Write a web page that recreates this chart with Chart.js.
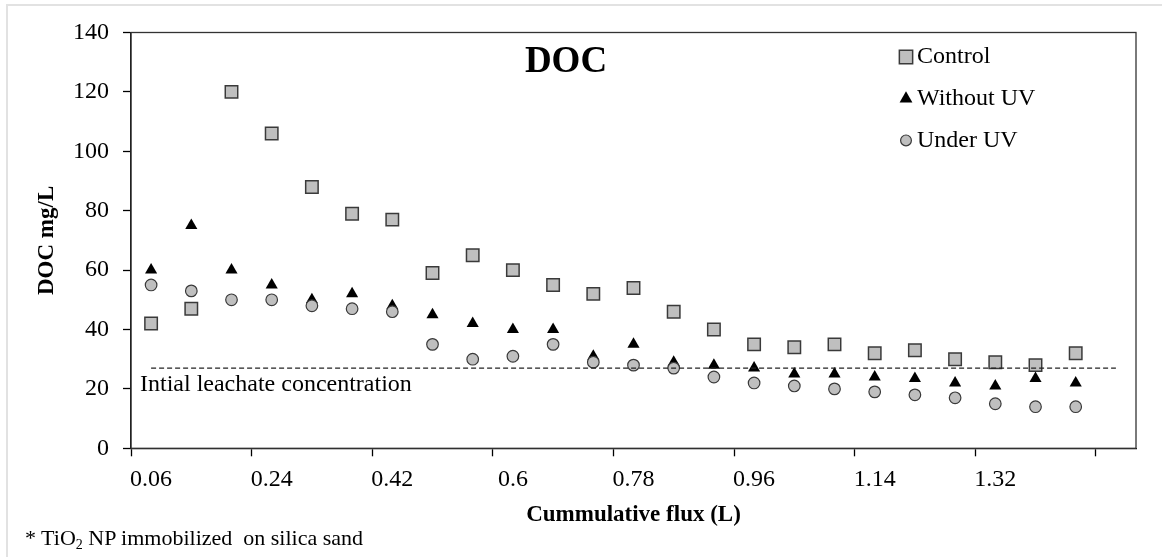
<!DOCTYPE html>
<html>
<head>
<meta charset="utf-8">
<script src="https://cdn.jsdelivr.net/npm/chart.js@4/dist/chart.umd.min.js"></script>
<style>
  html, body { margin: 0; padding: 0; background: #fff; overflow: hidden; }
  #wrap { position: relative; width: 1162px; height: 557px; overflow: hidden; }
  #frame { position: absolute; left: 6px; top: 4px; width: 1180px; height: 600px;
           border: 2px solid #e2e2e2; box-sizing: border-box; }
  canvas { position: absolute; left: 0; top: 0; }
  #note { position: absolute; left: 25px; top: 525px; font-family: 'Liberation Serif', serif;
          font-size: 22px; line-height: 26px; color: #000; white-space: pre; }
  #note sub { font-size: 14px; vertical-align: -4px; line-height: 0; }
</style>
</head>
<body>
<div id="wrap">
  <div id="frame"></div>
  <canvas id="c" width="1162" height="557"></canvas>
  <div id="note">* TiO<sub>2</sub> NP immobilized  on silica sand</div>
</div>
<script>
// Cumulative flux categories (L); the last one carries only the reference line
const fluxLabels = ['0.06','0.12','0.18','0.24','0.3','0.36','0.42','0.48','0.54','0.6',
                    '0.66','0.72','0.78','0.84','0.9','0.96','1.02','1.08','1.14','1.2',
                    '1.26','1.32','1.38','1.44','1.5'];

// DOC (mg/L) per series
const control   = [42, 47, 120, 106, 88, 79, 77, 59, 65, 60, 55, 52,
                   54, 46, 40, 35, 34, 35, 32, 33, 30, 29, 28, 32];
const withoutUV = [60, 75, 60, 55, 50, 52, 48, 45, 42, 40, 40, 31,
                   35, 29, 28, 27, 25, 25, 24, 23.5, 22, 21, 23.5, 22];
const underUV   = [55, 53, 50, 50, 48, 47, 46, 35, 30, 31, 35, 29,
                   28, 27, 24, 22, 21, 20, 19, 18, 17, 15, 14, 14];

// Initial leachate DOC level, drawn across every category
const initialLeachate = fluxLabels.map(() => 27);

const yTicks = { min: 0, max: 140, step: 20 };

const SERIF = "'Liberation Serif', 'Times New Roman', serif";

const seriesStyles = {
  control:   { pointStyle: 'rect',     pointRadius: 8.8, backgroundColor: '#bfbfbf', borderColor: '#3a3a3a', borderWidth: 1.5 },
  withoutUV: { pointStyle: 'triangle', pointRadius: 7.0, backgroundColor: '#000000', borderColor: '#000000', borderWidth: 0 },
  underUV:   { pointStyle: 'circle',   pointRadius: 5.8, backgroundColor: '#bfbfbf', borderColor: '#3a3a3a', borderWidth: 1.2 }
};

function markerSeries(label, data, st, order) {
  return {
    label, data, order,
    showLine: false,
    pointStyle: st.pointStyle,
    pointRadius: st.pointRadius,
    pointHoverRadius: st.pointRadius,
    pointBackgroundColor: st.backgroundColor,
    pointBorderColor: st.borderColor,
    pointBorderWidth: st.borderWidth,
    backgroundColor: st.backgroundColor,
    borderColor: st.borderColor,
    borderWidth: st.borderWidth
  };
}

// Plot frame, in-plot title, legend and reference-line caption
const decorations = {
  id: 'decorations',
  afterDraw(chart) {
    const { ctx, chartArea: a } = chart;
    const y = chart.scales.y;
    ctx.save();

    ctx.strokeStyle = '#333333';
    ctx.lineWidth = 1.3;
    ctx.strokeRect(a.left, a.top, a.right - a.left, a.bottom - a.top);

    ctx.fillStyle = '#000';
    ctx.textBaseline = 'middle';

    ctx.font = "bold 37px " + SERIF;
    ctx.textAlign = 'center';
    ctx.fillText('DOC', a.left + 435, a.top + 30);

    ctx.font = "24px " + SERIF;
    ctx.textAlign = 'left';
    ctx.fillText('Intial leachate concentration', a.left + 9, y.getPixelForValue(initialLeachate[0]) + 17);

    const items = [
      { text: 'Control',    st: seriesStyles.control,   r: 9.4 },
      { text: 'Without UV', st: seriesStyles.withoutUV, r: 7.4 },
      { text: 'Under UV',   st: seriesStyles.underUV,   r: 5.4 }
    ];
    items.forEach((it, i) => {
      const cx = a.left + 775;
      const cy = a.top + 24.5 + i * 41.7;
      ctx.fillStyle = it.st.backgroundColor;
      ctx.strokeStyle = it.st.borderColor;
      ctx.lineWidth = it.st.borderWidth;
      Chart.helpers.drawPoint(ctx, {
        pointStyle: it.st.pointStyle, radius: it.r, rotation: 0, borderWidth: it.st.borderWidth
      }, cx, cy);
      ctx.fillStyle = '#000';
      ctx.font = "24px " + SERIF;
      ctx.textAlign = 'left';
      ctx.fillText(it.text, cx + 11, cy);
    });

    ctx.restore();
  }
};

new Chart(document.getElementById('c'), {
  type: 'line',
  data: {
    labels: fluxLabels,
    datasets: [
      {
        label: 'Initial leachate',
        data: initialLeachate,
        order: 0,
        borderColor: '#222222',
        borderWidth: 1.4,
        borderDash: [5, 3],
        pointRadius: 0,
        pointHoverRadius: 0,
        fill: false
      },
      markerSeries('Under UV', underUV, seriesStyles.underUV, 1),
      markerSeries('Without UV', withoutUV, seriesStyles.withoutUV, 2),
      markerSeries('Control', control, seriesStyles.control, 3)
    ]
  },
  options: {
    responsive: false,
    animation: false,
    devicePixelRatio: 1,
    layout: { padding: { top: 32.5, right: 26, left: 0, bottom: 0 } },
    plugins: {
      legend: { display: false },
      title: { display: false },
      tooltip: { enabled: false }
    },
    scales: {
      x: {
        type: 'category',
        offset: true,
        afterFit(scale) { scale.height = 108.7; },
        border: { display: true, color: '#000', width: 1.3 },
        grid: {
          offset: true,
          drawOnChartArea: false,
          drawTicks: true,
          tickLength: 8,
          tickWidth: 1.3,
          color: 'rgba(0,0,0,0)',
          tickColor: (ctx) => (ctx.index !== undefined && ctx.index % 3 === 0) ? '#000' : 'rgba(0,0,0,0)'
        },
        ticks: {
          autoSkip: false,
          maxRotation: 0,
          minRotation: 0,
          padding: 9,
          color: '#000',
          font: { family: SERIF, size: 24 },
          callback: function (val, index) {
            return (index % 3 === 0 && index < control.length) ? this.getLabelForValue(val) : '';
          }
        },
        title: {
          display: true,
          text: 'Cummulative flux (L)',
          color: '#000',
          font: { family: SERIF, size: 23, weight: 'bold' },
          padding: { top: 0, bottom: 28 }
        }
      },
      y: {
        min: yTicks.min,
        max: yTicks.max,
        afterFit(scale) { scale.width = 131; },
        border: { display: true, color: '#000', width: 1.3 },
        grid: {
          drawOnChartArea: false,
          drawTicks: true,
          tickLength: 8,
          tickWidth: 1.3,
          tickColor: '#000'
        },
        ticks: {
          stepSize: yTicks.step,
          padding: 14,
          color: '#000',
          font: { family: SERIF, size: 24 }
        },
        title: {
          display: true,
          text: 'DOC mg/L',
          color: '#000',
          font: { family: SERIF, size: 23, weight: 'bold' },
          padding: { top: 33, bottom: 0 }
        }
      }
    }
  },
  plugins: [decorations]
});
</script>
</body>
</html>
